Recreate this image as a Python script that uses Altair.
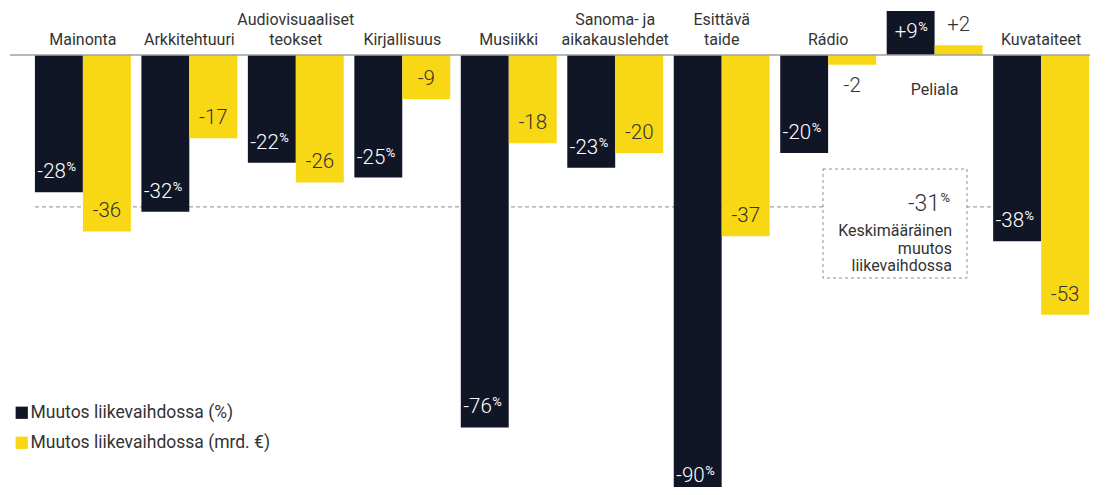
import altair as alt
import pandas as pd

# ---------------- data ----------------
categories = ["Mainonta", "Arkkitehtuuri", "Audiovisuaaliset\nteokset", "Kirjallisuus",
              "Musiikki", "Sanoma- ja\naikakauslehdet", "Esittävä\ntaide", "Rádio",
              "Peliala", "Kuvataiteet"]
change_pct = [-28, -32, -22, -25, -76, -23, -90, -20, 9, -38]
change_eur = [-36, -17, -26, -9, -18, -20, -37, -2, 2, -53]
series_names = ["Muutos liikevaihdossa (%)", "Muutos liikevaihdossa (mrd. €)"]
average_change = -31
annotation_lines = ["Keskimääräinen", "muutos", "liikevaihdossa"]

# ---------------- style ----------------
DARK = "#111627"
YELLOW = "#F8D714"
TEXT = "#333333"
GREY = "#8c8c8c"
FONT = "Roboto"
W, H = 1096, 479
ZERO_PX = 47          # pixel row of the zero line inside the plot
PX_PER_UNIT = 4.9
y_domain = [-(H - ZERO_PX) / PX_PER_UNIT, ZERO_PX / PX_PER_UNIT]
HALF = 24             # half of a single bar width (px)
CAT_SIZE = 16
CAT_LH = 20
VAL_SIZE = 20.5
SUP_SIZE = 13

rows = []
for c, p, e in zip(categories, change_pct, change_eur):
    rows.append({"category": c, "series": series_names[0], "value": p})
    rows.append({"category": c, "series": series_names[1], "value": e})
long_df = pd.DataFrame(rows)
cat_df = pd.DataFrame({"category": categories, "pct": change_pct})
avg_df = pd.DataFrame({"avg": [average_change], "note": ["\n".join(annotation_lines)]})

x_enc = alt.X("category:N", sort=categories, axis=None,
              scale=alt.Scale(paddingInner=0.1, paddingOuter=0.197, align=0.643))
y_scale = alt.Scale(domain=y_domain, nice=False, zero=False)
y_enc = alt.Y("value:Q", scale=y_scale, axis=None)
zero_enc = alt.Y("zero:Q", scale=y_scale, axis=None)
color_enc = alt.Color(
    "series:N", sort=series_names,
    scale=alt.Scale(domain=series_names, range=[DARK, YELLOW]),
    legend=alt.Legend(orient="none", legendX=5, legendY=396, title=None,
                      symbolType="square", symbolSize=150, symbolStrokeWidth=0,
                      labelFont=FONT, labelFontSize=17.5, labelColor=TEXT,
                      labelLimit=500, rowPadding=11, labelOffset=0, padding=0))

long = alt.Chart(long_df).transform_calculate(zero="0")
offsets = {series_names[0]: -HALF, series_names[1]: HALF}

bar_layers = []
for s in series_names:
    bar_layers.append(
        long.transform_filter(alt.datum.series == s)
        .mark_bar(width=alt.RelativeBandSize(0.5), xOffset=offsets[s])
        .encode(x=x_enc, y=y_enc, y2="zero:Q", color=color_enc)
    )

NEAR = "(datum.value <= -5) || (datum.value > 0 && datum.value < 5)"
FAR = "(datum.value > -5 && datum.value < 0) || (datum.value >= 5)"


def value_labels(series, color, cond, dy, pct):
    src = (long.transform_filter(alt.datum.series == series)
           .transform_filter(cond)
           .transform_calculate(num="(datum.value > 0 ? '+' : '') + datum.value"))
    xo = offsets[series]
    layers = []
    if pct:
        layers.append(src.mark_text(align="right", baseline="middle", fontSize=VAL_SIZE,
                                    fontWeight=300, color=color, xOffset=xo, dx=7, dy=dy)
                      .encode(x=x_enc, y=y_enc, text="num:N"))
        layers.append(src.mark_text(align="left", baseline="middle", fontSize=SUP_SIZE,
                                    color=color, xOffset=xo, dx=7.5, dy=dy - 5)
                      .encode(x=x_enc, y=y_enc, text=alt.value("%")))
    else:
        layers.append(src.mark_text(align="center", baseline="middle", fontSize=VAL_SIZE,
                                    fontWeight=300, color=color, xOffset=xo, dy=dy)
                      .encode(x=x_enc, y=y_enc, text="num:N"))
    return layers


label_layers = []
label_layers += value_labels(series_names[0], "white", NEAR, -20, True)
label_layers += value_labels(series_names[0], "white", FAR, 21, True)
label_layers += value_labels(series_names[1], TEXT, NEAR, -20, False)
label_layers += value_labels(series_names[1], TEXT, FAR, 21, False)

cats = alt.Chart(cat_df).transform_calculate(
    zero="0", nlines="length(split(datum.category, '\\n'))")
cat_layers = []
for n in (1, 2):
    cat_layers.append(
        cats.transform_filter(f"datum.pct <= 0 && datum.nlines == {n}").mark_text(
            baseline="bottom", lineBreak="\n", lineHeight=CAT_LH, fontSize=CAT_SIZE,
            color=TEXT, dy=-7 - (n - 1) * CAT_LH
        ).encode(x=x_enc, y=zero_enc, text="category:N"))
cat_below = cats.transform_filter("datum.pct > 0").mark_text(
    baseline="middle", fontSize=CAT_SIZE, color=TEXT, dy=35
).encode(x=x_enc, y=zero_enc, text="category:N")

avg = alt.Chart(avg_df).transform_calculate(zero="0")
avg_y = alt.Y("avg:Q", scale=y_scale, axis=None)
avg_line = avg.mark_rule(color=GREY, strokeDash=[4, 3], strokeWidth=1).encode(
    y=avg_y, x=alt.value(27), x2=alt.value(986))
avg_box = avg.mark_rect(fill="white", stroke=GREY, strokeDash=[3, 3], strokeWidth=1).encode(
    x=alt.value(815), x2=alt.value(959), y=alt.value(161), y2=alt.value(270))
avg_num = avg.transform_calculate(t="'' + datum.avg").mark_text(
    align="right", baseline="middle", fontSize=23, fontWeight=300, color=TEXT, dy=-3
).encode(x=alt.value(932), y=avg_y, text="t:N")
avg_pct = avg.mark_text(
    align="left", baseline="middle", fontSize=SUP_SIZE, color=TEXT, dy=-9
).encode(x=alt.value(932.5), y=avg_y, text=alt.value("%"))
avg_note = avg.mark_text(
    align="right", baseline="alphabetic", lineBreak="\n", lineHeight=17.5,
    fontSize=16, color=TEXT
).encode(x=alt.value(944), y=alt.value(228), text="note:N")

zero_line = avg.mark_rule(color="#a0a0a0", strokeWidth=1.5).encode(
    y=zero_enc, x=alt.value(2), x2=alt.value(1082))

chart = alt.layer(
    avg_line, *bar_layers, zero_line, avg_box, avg_num, avg_pct, avg_note,
    *cat_layers, cat_below, *label_layers
).properties(
    width=W, height=H, padding=0, autosize=alt.AutoSizeParams(type="none")
).configure(font=FONT).configure_view(stroke=None).configure_text(font=FONT)

chart.save("out.html", embed_options={"renderer": "svg", "actions": False})
